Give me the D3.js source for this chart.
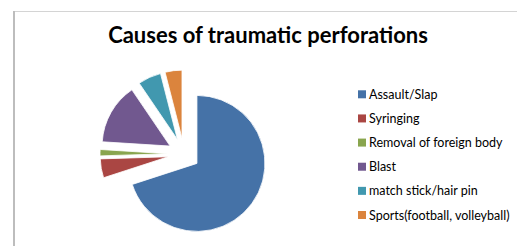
<!DOCTYPE html>
<html>
<head>
<meta charset="utf-8">
<script src="https://cdn.jsdelivr.net/npm/d3@7"></script>
<style>
  body { margin: 0; background: #fff; }
  text { font-family: Lato, "Liberation Sans", sans-serif; }
</style>
</head>
<body>
<svg id="chart" width="517" height="246"></svg>
<script>
// causes, share of cases (%)
var causes = ["Assault/Slap", "Syringing", "Removal of foreign body", "Blast", "match stick/hair pin", "Sports(football, volleyball)"];
var shares = [70, 4.5, 1.5, 14.5, 5.5, 4];
var colours = ["#4572A7", "#AA4643", "#89A54E", "#71588F", "#4198AF", "#DB843D"];

var width = 517,
    height = 246,
    radius = 68,
    explode = 16;

var svg = d3.select("#chart");

// chart frame (only top/left edges show)
svg.append("rect")
    .attr("x", 14)
    .attr("y", 11.5)
    .attr("width", 600)
    .attr("height", 400)
    .attr("fill", "none")
    .attr("stroke", "#d4d4d4")
    .attr("stroke-width", 1);
svg.append("line")
    .attr("x1", 14).attr("x2", 14)
    .attr("y1", 11).attr("y2", height)
    .attr("stroke", "#bdbdbd")
    .attr("stroke-width", 2);

svg.append("text")
    .attr("x", 268)
    .attr("y", 43)
    .attr("text-anchor", "middle")
    .style("font-size", "22px")
    .style("font-weight", "bold")
    .attr("fill", "#000")
    .text("Causes of traumatic perforations");

var data = causes.map(function(c, i) {
  return {cause: c, value: shares[i]};
});

var color = d3.scaleOrdinal()
    .domain(causes)
    .range(colours);

var pie = d3.pie()
    .sort(null)
    .value(function(d) { return d.value; });

var arc = d3.arc()
    .innerRadius(0)
    .outerRadius(radius);

var g = svg.append("g")
    .attr("transform", "translate(184,154)");

g.selectAll(".slice")
    .data(pie(data))
  .enter().append("path")
    .attr("class", "slice")
    .attr("d", arc)
    .attr("transform", function(d) {
      var a = (d.startAngle + d.endAngle) / 2;
      return "translate(" + (explode * Math.sin(a)) + "," + (-explode * Math.cos(a)) + ")";
    })
    .attr("fill", function(d) { return color(d.data.cause); })
    .attr("stroke", "#fff")
    .attr("stroke-width", 0.8);

// legend
var legendY = d3.scalePoint()
    .domain(causes)
    .range([94.3, 215]);

var legend = svg.append("g")
    .attr("class", "legend")
    .selectAll("g")
    .data(causes)
  .enter().append("g")
    .attr("transform", function(d) { return "translate(358," + legendY(d) + ")"; });

legend.append("rect")
    .attr("x", 0)
    .attr("y", -4)
    .attr("width", 8)
    .attr("height", 8)
    .attr("fill", function(d) { return color(d); });

legend.append("text")
    .attr("x", 11)
    .attr("y", 4.5)
    .style("font-size", "12.5px")
    .attr("fill", "#000")
    .text(function(d) { return d; });
</script>
</body>
</html>
